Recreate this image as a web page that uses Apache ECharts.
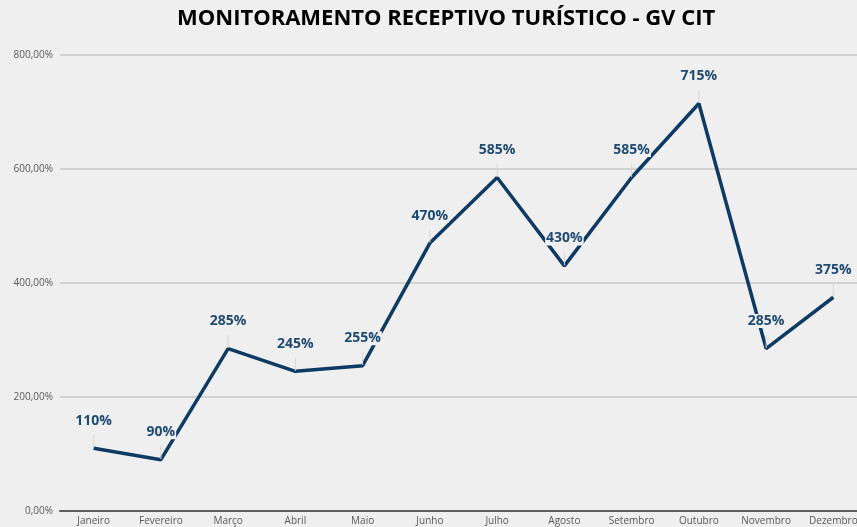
<!DOCTYPE html>
<html>
<head>
<meta charset="utf-8">
<script src="https://cdn.jsdelivr.net/npm/echarts@6/dist/echarts.min.js"></script>
<style>
  html, body { margin: 0; padding: 0; background: #efefef; overflow: hidden; }
  #chart { width: 867px; height: 527px; }
</style>
</head>
<body>
<div id="chart"></div>
<script>
var meses = ['Janeiro', 'Fevereiro', 'Março', 'Abril', 'Maio', 'Junho', 'Julho', 'Agosto', 'Setembro', 'Outubro', 'Novembro', 'Dezembro'];
var percentuais = [110, 90, 285, 245, 255, 470, 585, 430, 585, 715, 285, 375];

var chartDom = document.getElementById('chart');
var myChart = echarts.init(chartDom);

var option = {
  backgroundColor: '#efefef',
  animation: false,
  title: {
    text: 'MONITORAMENTO RECEPTIVO TURÍSTICO - GV CIT',
    left: 172,
    top: 3,
    textStyle: {
      fontFamily: 'Open Sans',
      fontWeight: 'bold',
      fontSize: 22,
      color: '#000000'
    }
  },
  grid: {
    left: 60,
    right: 0,
    top: 55,
    bottom: 16,
    containLabel: false
  },
  xAxis: {
    type: 'category',
    data: meses,
    boundaryGap: true,
    axisLine: { lineStyle: { color: '#5f5f5f', width: 2 } },
    axisTick: { show: false },
    axisLabel: {
      color: '#595959',
      fontSize: 10,
      fontFamily: 'Open Sans',
      margin: 5
    }
  },
  yAxis: {
    type: 'value',
    min: 0,
    max: 800,
    interval: 200,
    axisLine: { show: false },
    axisTick: { show: false },
    axisLabel: {
      color: '#595959',
      fontSize: 10,
      fontFamily: 'Open Sans',
      margin: 7,
      formatter: function (v) { return v.toFixed(2).replace('.', ',') + '%'; }
    },
    splitLine: { lineStyle: { color: '#c9c9c9', width: 1.5 } }
  },
  series: [
    {
      type: 'line',
      data: percentuais,
      symbol: 'circle',
      symbolSize: 1,
      itemStyle: { color: 'rgba(0,0,0,0)' },
      lineStyle: { color: '#0e3a64', width: 3.5 },
      label: {
        show: true,
        position: 'top',
        distance: 20,
        formatter: '{c}%',
        color: '#1f4a72',
        fontFamily: 'Open Sans',
        fontWeight: 'bold',
        fontSize: 14,
        backgroundColor: '#efefef',
        padding: [0, 1]
      },
      labelLine: {
        show: true,
        lineStyle: { color: '#d6d6d6', width: 1 }
      }
    }
  ]
};

option && myChart.setOption(option);
</script>
</body>
</html>
